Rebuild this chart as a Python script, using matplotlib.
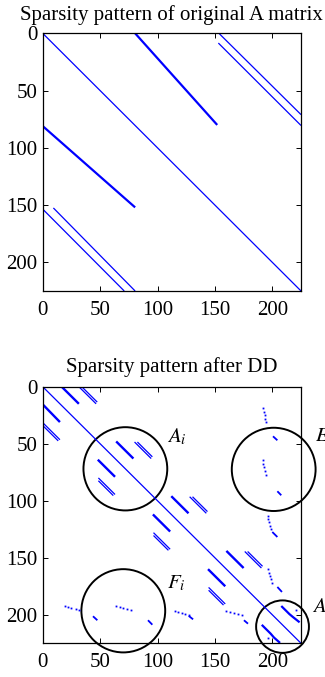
import matplotlib
matplotlib.use("Agg")
import matplotlib.pyplot as plt
from matplotlib.patches import Circle

plt.rcParams['font.family'] = ['Liberation Serif', 'DejaVu Serif']
plt.rcParams['mathtext.fontset'] = 'stix'

N = 225
tick_vals = [0, 50, 100, 150, 200]

# ---------- original matrix: segments (row0, col0, row1, col1) ----------
orig_thin = [
    (0, 0, 225, 225),
    (0, 153.5, 71, 225),
    (8.5, 153, 80.5, 225),
    (153.5, 0, 225, 71),
    (152.5, 9.3, 225, 80.5),
]
orig_thick = [
    (0, 80.5, 80, 152),
    (81, 0, 152, 80.5),
]

# ---------- matrix after domain decomposition ----------
dd_diag = [(0, 0, 225, 225)]
dd_thick = [
    (0, 16.5, 15, 31.5), (16, 0.5, 31, 15),
    (48, 64, 63, 79), (64, 48, 79, 63),
    (96, 112, 111, 127), (112, 96, 127, 111),
    (144, 160, 159, 175), (160, 144, 175, 159),
]
dd_double = [
    (0.5, 32, 15, 46.5), (0.5, 34.5, 13.5, 47.5),
    (32, 0.5, 46.5, 15), (34.5, 0.5, 47.5, 13.5),
    (48.5, 80, 63, 94.5), (48.5, 82.5, 61.5, 95.5),
    (80, 48.5, 94.5, 63), (82.5, 48.5, 95.5, 61.5),
    (96.5, 128, 111, 142.5), (96.5, 130.5, 109.5, 143.5),
    (128, 96.5, 142.5, 111), (130.5, 96.5, 143.5, 109.5),
    (144.5, 176, 159, 190.5), (144.5, 178.5, 157.5, 191.5),
    (176, 144.5, 190.5, 159), (178.5, 144.5, 191.5, 157.5),
]
dd_short = [
    (43.5, 200.6, 47, 204.4), (91.7, 204.4, 95.2, 207.8),
    (127.4, 200, 131.8, 204.4), (175.6, 204.4, 180, 208.4),
    (201.3, 43.8, 204.8, 47.6), (204.8, 91.7, 208.7, 95.5),
    (201, 127.2, 204, 131), (204.8, 175.3, 207.8, 178.8),
]
# interface block (polylines: rows, cols)
gamma_rows_1 = [193, 196, 199.5, 202, 206]
gamma_cols_1 = [208.5, 211.5, 215, 218, 223]
gamma_rows_2 = [209.5, 213, 216.5, 220, 224]
gamma_cols_2 = [191.5, 195, 198.5, 201.5, 206]
# scattered nonzeros (rows, cols)
dot_rows = [19, 22, 25, 28, 31,
            64, 67.5, 70.5, 74, 77,
            113, 116, 119, 122, 125,
            160, 163, 166, 169, 172,
            192.6, 193.4, 194.3, 195.2, 196,
            192.3, 193.2, 194.2, 195.2, 196.1,
            197, 197.8, 198.6, 199.3, 200,
            197, 197.9, 198.8, 199.7, 200.5,
            195.8, 220.6]
dot_cols = [192, 192.6, 193.2, 194, 194.8,
            191.6, 192.2, 193, 193.6, 194.5,
            196, 196.6, 197.2, 197.8, 198.6,
            196.3, 197, 197.7, 198.5, 199.5,
            19, 22, 25, 29, 32,
            64, 67, 70, 73, 77,
            115, 118, 121, 124, 127,
            160, 163.5, 167, 170.5, 174,
            220.4, 196.5]

# circles: (row, col, radius)
circles = [(72, 72, 36.5), (72.5, 201.2, 36.5), (196.5, 70.2, 36.5), (210.4, 208.9, 23)]
labels = [(r'$A_i$', 44, 108), (r'$E_i$', 44, 237.3), (r'$F_i$', 172.4, 108), (r'$A_\Gamma$', 193, 234.3)]

titles = ['Sparsity pattern of original A matrix', 'Sparsity pattern after DD']

BLUE = '#0000FF'
FS = 15

fig = plt.figure(figsize=(3.25, 6.77), dpi=100)
ax1 = fig.add_axes([0.1314, 0.5702, 0.7948, 0.3806])
ax2 = fig.add_axes([0.1314, 0.0498, 0.7948, 0.3790])


def style(ax, title, pad):
    ax.set_xlim(0, N)
    ax.set_ylim(N, 0)
    ax.set_xticks(tick_vals)
    ax.set_yticks(tick_vals)
    ax.tick_params(direction='in', top=True, right=True, length=3.5, width=0.7,
                   labelsize=FS)
    ax.tick_params(axis='x', pad=7)
    ax.tick_params(axis='y', pad=4)
    for s in ax.spines.values():
        s.set_linewidth(0.9)
    ax.set_title(title, fontsize=FS, pad=pad)


def draw_segments(ax, segs, lw):
    for r0, c0, r1, c1 in segs:
        ax.plot([c0, c1], [r0, r1], color=BLUE, lw=lw, solid_capstyle='butt')


draw_segments(ax1, orig_thin, 0.9)
draw_segments(ax1, orig_thick, 1.6)
style(ax1, titles[0], 9.5)

draw_segments(ax2, dd_diag, 0.9)
draw_segments(ax2, dd_thick, 1.7)
draw_segments(ax2, dd_double, 0.9)
draw_segments(ax2, dd_short, 1.3)
ax2.plot(gamma_cols_1, gamma_rows_1, color=BLUE, lw=1.6)
ax2.plot(gamma_cols_2, gamma_rows_2, color=BLUE, lw=1.6)
ax2.plot(dot_cols, dot_rows, ls='none', marker='s', ms=1.3, mec='none', color=BLUE)
for r, c, rad in circles:
    ax2.add_patch(Circle((c, r), rad, fill=False, ec='black', lw=1.4, clip_on=False))
for txt, r, c in labels:
    ax2.text(c, r, txt, fontsize=FS, ha='left', va='center', clip_on=False)
style(ax2, titles[1], 10.5)

fig.savefig('out.png', dpi=100)
